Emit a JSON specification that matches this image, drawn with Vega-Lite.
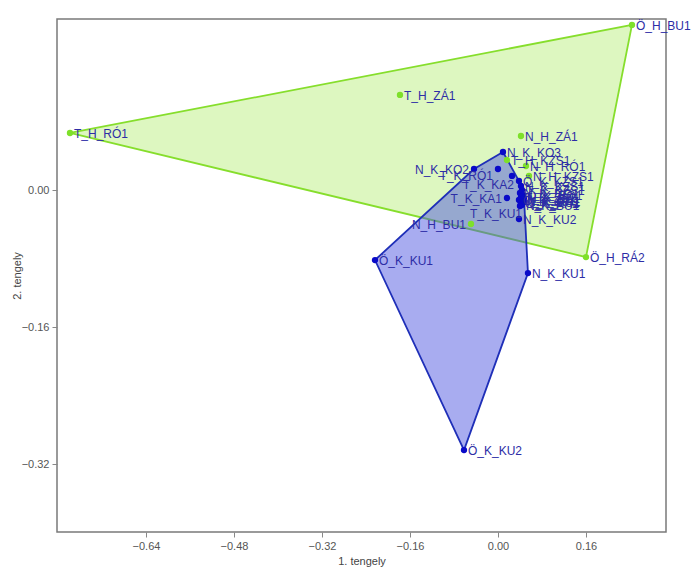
{
  "$schema": "https://vega.github.io/schema/vega-lite/v6.json",
  "width": 609,
  "height": 513,
  "autosize": "none",
  "padding": {"left": 57, "top": 19, "right": 32, "bottom": 44},
  "background": "white",
  "config": {
    "view": {"stroke": "#7a7a7a", "strokeWidth": 1.5},
    "font": "Liberation Sans"
  },
  "datasets": {
    "points": [
      {"label": "Ö_H_BU1", "grp": "H", "x": 0.2436, "y": 0.1928},
      {"label": "T_H_ZÁ1", "grp": "H", "x": -0.1782, "y": 0.1110},
      {"label": "T_H_RÓ1", "grp": "H", "x": -0.7782, "y": 0.0666},
      {"label": "N_H_ZÁ1", "grp": "H", "x": 0.0418, "y": 0.0631},
      {"label": "T_H_KZS1", "grp": "H", "x": 0.0164, "y": 0.0350},
      {"label": "N_H_RÓ1", "grp": "H", "x": 0.0509, "y": 0.0280},
      {"label": "N_H_KZS1", "grp": "H", "x": 0.0564, "y": 0.0164},
      {"label": "N_H_BU1", "grp": "H", "x": -0.0491, "y": -0.0397},
      {"label": "Ö_H_RÁ2", "grp": "H", "x": 0.1600, "y": -0.0783},
      {"label": "N_K_KO3", "grp": "K", "x": 0.0091, "y": 0.0444},
      {"label": "N_K_KO2", "grp": "K", "x": -0.0436, "y": 0.0245},
      {"label": "T_K_RÓ1", "grp": "K", "x": 0.0000, "y": 0.0245},
      {"label": "T_K_KA2", "grp": "K", "x": 0.0255, "y": 0.0164},
      {"label": "T_K_KA1", "grp": "K", "x": 0.0164, "y": -0.0093},
      {"label": "Ö_K_KZS1", "grp": "K", "x": 0.0382, "y": 0.0105},
      {"label": "N_K_KZS1", "grp": "K", "x": 0.0418, "y": 0.0047},
      {"label": "T_K_KZS1", "grp": "K", "x": 0.0436, "y": 0.0000},
      {"label": "N_K_RÓ1", "grp": "K", "x": 0.0400, "y": -0.0035},
      {"label": "Ö_K_RÓ1", "grp": "K", "x": 0.0455, "y": -0.0058},
      {"label": "T_K_ZÁ1", "grp": "K", "x": 0.0418, "y": -0.0082},
      {"label": "N_K_ZÁ1", "grp": "K", "x": 0.0473, "y": -0.0093},
      {"label": "Ö_K_ZÁ1", "grp": "K", "x": 0.0382, "y": -0.0117},
      {"label": "N_K_RÁ1", "grp": "K", "x": 0.0455, "y": -0.0129},
      {"label": "Ö_K_RÁ2", "grp": "K", "x": 0.0418, "y": -0.0152},
      {"label": "T_K_BU1", "grp": "K", "x": 0.0473, "y": -0.0140},
      {"label": "N_K_BU1", "grp": "K", "x": 0.0436, "y": -0.0175},
      {"label": "T_K_KU1", "grp": "K", "x": 0.0400, "y": -0.0187},
      {"label": "N_K_KU2", "grp": "K", "x": 0.0382, "y": -0.0339},
      {"label": "Ö_K_KU1", "grp": "K", "x": -0.2236, "y": -0.0818},
      {"label": "N_K_KU1", "grp": "K", "x": 0.0545, "y": -0.0970},
      {"label": "Ö_K_KU2", "grp": "K", "x": -0.0618, "y": -0.3037}
    ],
    "hulls": [
      {"grp": "H", "ord": 1, "x": -0.7782, "y": 0.0666},
      {"grp": "H", "ord": 2, "x": 0.2436, "y": 0.1928},
      {"grp": "H", "ord": 3, "x": 0.1600, "y": -0.0783},
      {"grp": "H", "ord": 4, "x": -0.7782, "y": 0.0666},
      {"grp": "K", "ord": 1, "x": 0.0091, "y": 0.0444},
      {"grp": "K", "ord": 2, "x": 0.0382, "y": 0.0105},
      {"grp": "K", "ord": 3, "x": 0.0473, "y": -0.0093},
      {"grp": "K", "ord": 4, "x": 0.0545, "y": -0.0970},
      {"grp": "K", "ord": 5, "x": -0.0618, "y": -0.3037},
      {"grp": "K", "ord": 6, "x": -0.2236, "y": -0.0818},
      {"grp": "K", "ord": 7, "x": -0.0436, "y": 0.0245},
      {"grp": "K", "ord": 8, "x": 0.0091, "y": 0.0444}
    ]
  },
  "encoding": {
    "x": {
      "field": "x", "type": "quantitative",
      "scale": {"domain": [-0.8018, 0.3055], "nice": false, "zero": false},
      "axis": {
        "title": "1. tengely", "values": [-0.64, -0.48, -0.32, -0.16, 0, 0.16],
        "format": ".2f", "grid": false, "domain": false,
        "tickColor": "#888", "tickSize": 5, "labelColor": "#555", "labelFontSize": 11,
        "labelPadding": 3, "titleColor": "#444", "titleFontSize": 11, "titleFontWeight": "normal", "titlePadding": 4
      }
    },
    "y": {
      "field": "y", "type": "quantitative",
      "scale": {"domain": [-0.3994, 0.1997], "nice": false, "zero": false},
      "axis": {
        "title": "2. tengely", "values": [-0.32, -0.16, 0],
        "format": ".2f", "grid": false, "domain": false,
        "tickColor": "#888", "tickSize": 5, "labelColor": "#555", "labelFontSize": 11,
        "labelPadding": 3, "titleColor": "#444", "titleFontSize": 11, "titleFontWeight": "normal",
        "titleX": -35, "titleBaseline": "bottom"
      }
    }
  },
  "layer": [
    {
      "data": {"name": "hulls"},
      "transform": [{"filter": "datum.grp == 'H'"}],
      "mark": {"type": "line", "fill": "#9fe84a", "fillOpacity": 0.35, "stroke": "#86de2c", "strokeWidth": 1.8},
      "encoding": {"order": {"field": "ord", "type": "quantitative"}}
    },
    {
      "data": {"name": "hulls"},
      "transform": [{"filter": "datum.grp == 'K'"}],
      "mark": {"type": "line", "fill": "#4a52e0", "fillOpacity": 0.48, "stroke": "#1f2fb8", "strokeWidth": 1.8},
      "encoding": {"order": {"field": "ord", "type": "quantitative"}}
    },
    {
      "data": {"name": "points"},
      "mark": {"type": "circle", "size": 40, "opacity": 1},
      "encoding": {
        "color": {"field": "grp", "type": "nominal", "scale": {"domain": ["H", "K"], "range": ["#7ee02a", "#0a0ac8"]}, "legend": null}
      }
    },
    {
      "data": {"name": "points"},
      "mark": {
        "type": "text", "fontSize": 12, "color": "#2d2da6", "baseline": "middle",
        "align": {"expr": "indexof(['N_K_KO2','T_K_RÓ1','T_K_KA2','T_K_KA1','T_K_KU1','N_H_BU1'], datum.label) >= 0 ? 'right' : 'left'"},
        "dx": {"expr": "indexof(['N_K_KO2','T_K_RÓ1','T_K_KA1','N_H_BU1'], datum.label) >= 0 ? -5 : (indexof(['T_K_KA2','T_K_KU1'], datum.label) >= 0 ? 2 : 4)"},
        "dy": {"expr": "datum.label == 'T_K_RÓ1' ? 7 : (datum.label == 'T_K_KA2' ? 9 : (datum.label == 'T_K_KU1' ? 8 : 1))"}
      },
      "encoding": {"text": {"field": "label"}}
    }
  ]
}
